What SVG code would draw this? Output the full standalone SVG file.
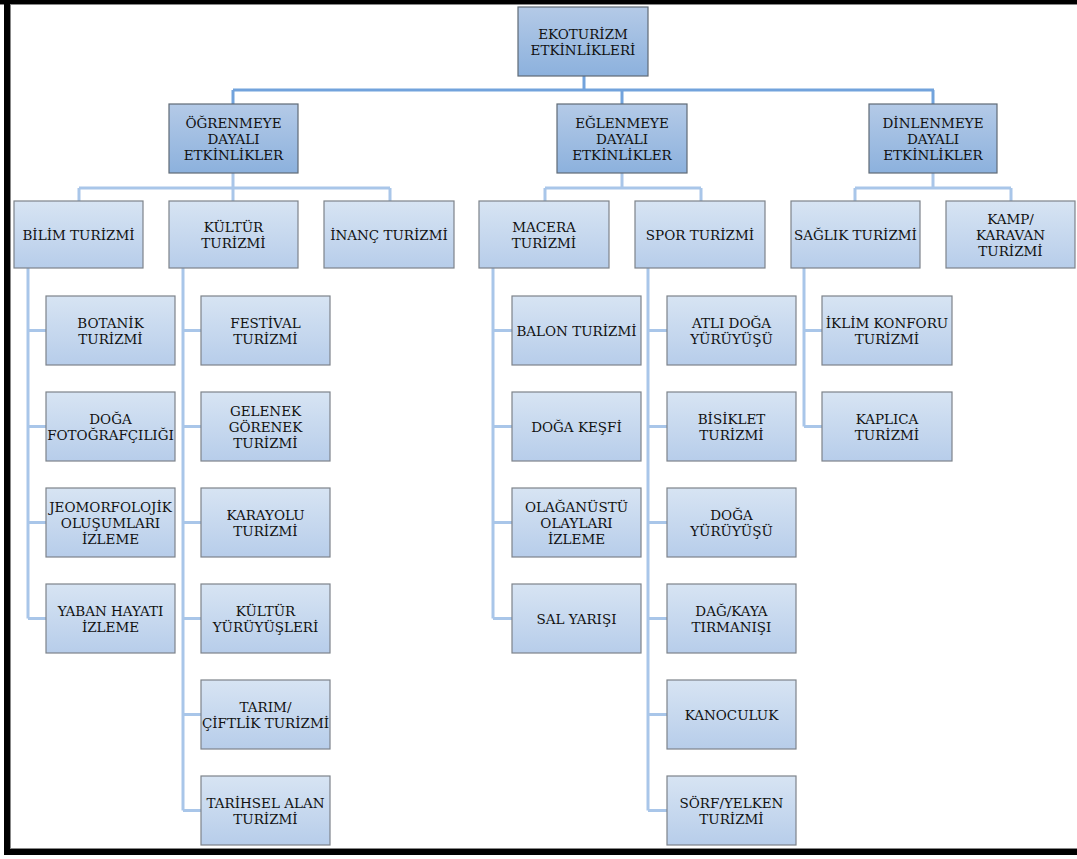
<svg xmlns="http://www.w3.org/2000/svg" width="1077" height="859" viewBox="0 0 1077 859">
<defs>
<linearGradient id="gDark" x1="0" y1="0" x2="0" y2="1"><stop offset="0" stop-color="#b4cae7"/><stop offset="1" stop-color="#8cb1dd"/></linearGradient>
<linearGradient id="gLight" x1="0" y1="0" x2="0" y2="1"><stop offset="0" stop-color="#d7e4f3"/><stop offset="1" stop-color="#b7cdea"/></linearGradient>
<style>
.d{fill:url(#gDark);stroke:#5f6a76;stroke-width:1.2}
.l{fill:url(#gLight);stroke:#7d838a;stroke-width:1.2}
text{font-size:13.5px;fill:#111;text-anchor:middle}
.c1{fill:none;stroke:#72a3dc;stroke-width:3}
.c2{fill:none;stroke:#a9c6e9;stroke-width:3}
</style>
</defs>
<rect x="0" y="0" width="1077" height="859" fill="#fff"/>
<g id="frame">
<rect x="0" y="0" width="1077" height="4" fill="#000"/>
<rect x="0" y="4" width="1077" height="1" fill="#888"/>
<rect x="4" y="0" width="6" height="855" fill="#000"/>
<rect x="10" y="5" width="1" height="844" fill="#888"/>
<rect x="4" y="849" width="1073" height="6" fill="#000"/>
<rect x="10" y="848" width="1067" height="1" fill="#888"/>
</g>
<g id="connectors">
<path class="c1" d="M584 76V90M233 90H934M233 90V104M622 90V104M933 90V104"/>
<path class="c2" d="M233 173V188M79 188H390M79 188V201M233 188V201M390 188V201"/>
<path class="c2" d="M622 173V188M545 188H701M545 188V201M701 188V201"/>
<path class="c2" d="M933 173V188M855 188H1011M855 188V201M1011 188V201"/>
<path class="c2" d="M28 268V618.5M28 330.5H46M28 426.5H46M28 522.5H46M28 618.5H46"/>
<path class="c2" d="M183 268V810.5M183 330.5H201M183 426.5H201M183 522.5H201M183 618.5H201M183 714.5H201M183 810.5H201"/>
<path class="c2" d="M493 268V618.5M493 330.5H512M493 426.5H512M493 522.5H512M493 618.5H512"/>
<path class="c2" d="M648 268V810.5M648 330.5H667M648 426.5H667M648 522.5H667M648 618.5H667M648 714.5H667M648 810.5H667"/>
<path class="c2" d="M804 268V426.5M804 330.5H822M804 426.5H822"/>
</g>
<g id="nodes" font-family="DejaVu Serif">
<g id="n-root"><rect class="d" x="518" y="7" width="130" height="69"/><text x="583" y="38.5">EKOTURİZM<tspan x="583" dy="16">ETKİNLİKLERİ</tspan></text></g>
<g id="n-ogrenme"><rect class="d" x="169" y="104" width="129" height="69"/><text x="233.5" y="127.5">ÖĞRENMEYE<tspan x="233.5" dy="16">DAYALI</tspan><tspan x="233.5" dy="16">ETKİNLİKLER</tspan></text></g>
<g id="n-eglenme"><rect class="d" x="557" y="104" width="130" height="69"/><text x="622" y="127.5">EĞLENMEYE<tspan x="622" dy="16">DAYALI</tspan><tspan x="622" dy="16">ETKİNLİKLER</tspan></text></g>
<g id="n-dinlenme"><rect class="d" x="869" y="104" width="128" height="69"/><text x="933" y="127.5">DİNLENMEYE<tspan x="933" dy="16">DAYALI</tspan><tspan x="933" dy="16">ETKİNLİKLER</tspan></text></g>
<g id="n-bilim"><rect class="l" x="14" y="201" width="129" height="67"/><text x="78.5" y="239.5">BİLİM TURİZMİ</text></g>
<g id="n-kultur"><rect class="l" x="169" y="201" width="129" height="67"/><text x="233.5" y="231.5">KÜLTÜR<tspan x="233.5" dy="16">TURİZMİ</tspan></text></g>
<g id="n-inanc"><rect class="l" x="324" y="201" width="130" height="67"/><text x="389" y="239.5">İNANÇ TURİZMİ</text></g>
<g id="n-macera"><rect class="l" x="479" y="201" width="130" height="67"/><text x="544" y="231.5">MACERA<tspan x="544" dy="16">TURİZMİ</tspan></text></g>
<g id="n-spor"><rect class="l" x="635" y="201" width="130" height="67"/><text x="700" y="239.5">SPOR TURİZMİ</text></g>
<g id="n-saglik"><rect class="l" x="791" y="201" width="129" height="67"/><text x="855.5" y="239.5">SAĞLIK TURİZMİ</text></g>
<g id="n-kamp"><rect class="l" x="946" y="201" width="129" height="67"/><text x="1010.5" y="223.5">KAMP/<tspan x="1010.5" dy="16">KARAVAN</tspan><tspan x="1010.5" dy="16">TURİZMİ</tspan></text></g>
<g id="n-botanik"><rect class="l" x="46" y="296" width="129" height="69"/><text x="110.5" y="327.5">BOTANİK<tspan x="110.5" dy="16">TURİZMİ</tspan></text></g>
<g id="n-dogafoto"><rect class="l" x="46" y="392" width="129" height="69"/><text x="110.5" y="423.5">DOĞA<tspan x="110.5" dy="16">FOTOĞRAFÇILIĞI</tspan></text></g>
<g id="n-jeo"><rect class="l" x="46" y="488" width="129" height="69"/><text x="110.5" y="511.5">JEOMORFOLOJİK<tspan x="110.5" dy="16">OLUŞUMLARI</tspan><tspan x="110.5" dy="16">İZLEME</tspan></text></g>
<g id="n-yaban"><rect class="l" x="46" y="584" width="129" height="69"/><text x="110.5" y="615.5">YABAN HAYATI<tspan x="110.5" dy="16">İZLEME</tspan></text></g>
<g id="n-festival"><rect class="l" x="201" y="296" width="129" height="69"/><text x="265.5" y="327.5">FESTİVAL<tspan x="265.5" dy="16">TURİZMİ</tspan></text></g>
<g id="n-gelenek"><rect class="l" x="201" y="392" width="129" height="69"/><text x="265.5" y="415.5">GELENEK<tspan x="265.5" dy="16">GÖRENEK</tspan><tspan x="265.5" dy="16">TURİZMİ</tspan></text></g>
<g id="n-karayolu"><rect class="l" x="201" y="488" width="129" height="69"/><text x="265.5" y="519.5">KARAYOLU<tspan x="265.5" dy="16">TURİZMİ</tspan></text></g>
<g id="n-kulturyuru"><rect class="l" x="201" y="584" width="129" height="69"/><text x="265.5" y="615.5">KÜLTÜR<tspan x="265.5" dy="16">YÜRÜYÜŞLERİ</tspan></text></g>
<g id="n-tarim"><rect class="l" x="201" y="680" width="129" height="69"/><text x="265.5" y="711.5">TARIM/<tspan x="265.5" dy="16">ÇİFTLİK TURİZMİ</tspan></text></g>
<g id="n-tarihsel"><rect class="l" x="201" y="776" width="129" height="69"/><text x="265.5" y="807.5">TARİHSEL ALAN<tspan x="265.5" dy="16">TURİZMİ</tspan></text></g>
<g id="n-balon"><rect class="l" x="512" y="296" width="129" height="69"/><text x="576.5" y="335.5">BALON TURİZMİ</text></g>
<g id="n-dogakesfi"><rect class="l" x="512" y="392" width="129" height="69"/><text x="576.5" y="431.5">DOĞA KEŞFİ</text></g>
<g id="n-olaganustu"><rect class="l" x="512" y="488" width="129" height="69"/><text x="576.5" y="511.5">OLAĞANÜSTÜ<tspan x="576.5" dy="16">OLAYLARI</tspan><tspan x="576.5" dy="16">İZLEME</tspan></text></g>
<g id="n-sal"><rect class="l" x="512" y="584" width="129" height="69"/><text x="576.5" y="623.5">SAL YARIŞI</text></g>
<g id="n-atli"><rect class="l" x="667" y="296" width="129" height="69"/><text x="731.5" y="327.5">ATLI DOĞA<tspan x="731.5" dy="16">YÜRÜYÜŞÜ</tspan></text></g>
<g id="n-bisiklet"><rect class="l" x="667" y="392" width="129" height="69"/><text x="731.5" y="423.5">BİSİKLET<tspan x="731.5" dy="16">TURİZMİ</tspan></text></g>
<g id="n-dogayuru"><rect class="l" x="667" y="488" width="129" height="69"/><text x="731.5" y="519.5">DOĞA<tspan x="731.5" dy="16">YÜRÜYÜŞÜ</tspan></text></g>
<g id="n-dagkaya"><rect class="l" x="667" y="584" width="129" height="69"/><text x="731.5" y="615.5">DAĞ/KAYA<tspan x="731.5" dy="16">TIRMANIŞI</tspan></text></g>
<g id="n-kano"><rect class="l" x="667" y="680" width="129" height="69"/><text x="731.5" y="719.5">KANOCULUK</text></g>
<g id="n-sorf"><rect class="l" x="667" y="776" width="129" height="69"/><text x="731.5" y="807.5">SÖRF/YELKEN<tspan x="731.5" dy="16">TURİZMİ</tspan></text></g>
<g id="n-iklim"><rect class="l" x="822" y="296" width="130" height="69"/><text x="887" y="327.5">İKLİM KONFORU<tspan x="887" dy="16">TURİZMİ</tspan></text></g>
<g id="n-kaplica"><rect class="l" x="822" y="392" width="130" height="69"/><text x="887" y="423.5">KAPLICA<tspan x="887" dy="16">TURİZMİ</tspan></text></g>
</g>
</svg>
